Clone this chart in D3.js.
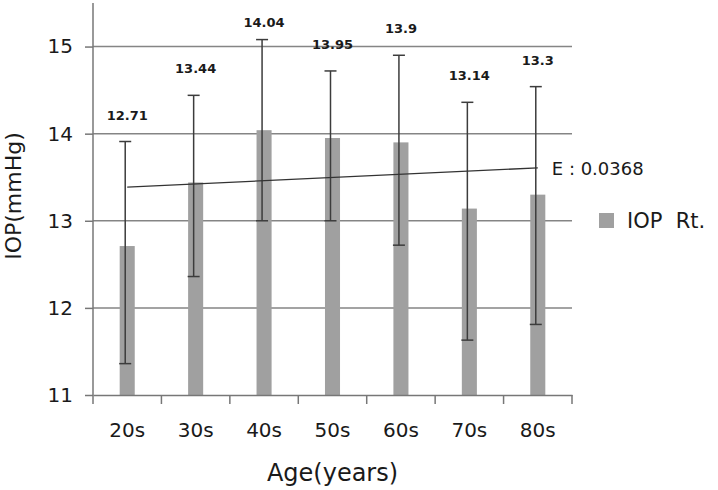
<!DOCTYPE html>
<html>
<head>
<meta charset="utf-8">
<script src="https://cdn.jsdelivr.net/npm/d3@7"></script>
<style>
  body { margin: 0; background: #fff; }
  text { font-family: "DejaVu Sans", sans-serif; fill: #1a1a1a; }
</style>
</head>
<body>
<svg width="718" height="490"></svg>
<script>
const ages = ["20s", "30s", "40s", "50s", "60s", "70s", "80s"];
const means = [12.71, 13.44, 14.04, 13.95, 13.9, 13.14, 13.3];
const errHigh = [13.91, 14.44, 15.08, 14.72, 14.9, 14.36, 14.54];
const errLow = [11.36, 12.36, 13.0, 13.0, 12.72, 11.63, 11.81];
const yTicks = [11, 12, 13, 14, 15];

const svg = d3.select("svg"),
  margin = { top: 3, right: 146, bottom: 95, left: 93 },
  width = +svg.attr("width") - margin.left - margin.right,
  height = +svg.attr("height") - margin.top - margin.bottom;

const chart = svg
  .append("g")
  .attr("transform", `translate(${margin.left},${margin.top})`);

const x = d3.scaleBand().domain(ages).range([0, width]);

const y = d3.scaleLinear().domain([11, 15.5]).range([height, 0]);

// grid lines
chart
  .selectAll(".grid")
  .data(yTicks.slice(1))
  .enter()
  .append("line")
  .attr("x1", 0)
  .attr("x2", width)
  .attr("y1", (d) => y(d))
  .attr("y2", (d) => y(d))
  .attr("stroke", "#858585")
  .attr("stroke-width", 1.5);

// bars
const bw = x.bandwidth() * 0.22;
chart
  .selectAll(".bar")
  .data(means)
  .enter()
  .append("rect")
  .attr("x", (d, i) => x(ages[i]) + x.bandwidth() / 2 - bw / 2)
  .attr("y", (d) => y(d))
  .attr("width", bw)
  .attr("height", (d) => height - y(d))
  .attr("fill", "#a0a0a0");

// error bars
const ex = (i) => x(ages[i]) + x.bandwidth() / 2 - 2;
const eb = chart.append("g").attr("stroke", "#3c3c3c").attr("stroke-width", 1.5);
means.forEach((m, i) => {
  eb.append("line")
    .attr("x1", ex(i)).attr("x2", ex(i))
    .attr("y1", y(errHigh[i])).attr("y2", y(errLow[i]));
  [errHigh[i], errLow[i]].forEach((v) => {
    eb.append("line")
      .attr("x1", ex(i) - 6).attr("x2", ex(i) + 6)
      .attr("y1", y(v)).attr("y2", y(v));
  });
});

// linear trend through the means
const xs = means.map((d, i) => i + 1);
const mx = d3.mean(xs), my = d3.mean(means);
const slope =
  d3.sum(xs, (v, i) => (v - mx) * (means[i] - my)) /
  d3.sum(xs, (v) => (v - mx) ** 2);
const fit = (v) => my + slope * (v - mx);
const cx = (i) => x(ages[i]) + x.bandwidth() / 2;
chart
  .append("line")
  .attr("x1", cx(0))
  .attr("x2", cx(6))
  .attr("y1", y(fit(1)))
  .attr("y2", y(fit(7)))
  .attr("stroke", "#333")
  .attr("stroke-width", 1.3);
chart
  .append("text")
  .attr("x", cx(6) + 14)
  .attr("y", y(fit(7)) + 7)
  .attr("font-size", 18)
  .attr("xml:space", "preserve")
  .text("E : " + slope.toFixed(4));

// value labels
chart
  .selectAll(".lbl")
  .data(means)
  .enter()
  .append("text")
  .attr("x", (d, i) => cx(i))
  .attr("y", (d, i) => Math.max(y(errHigh[i]) - 22, 24))
  .attr("text-anchor", "middle")
  .attr("font-size", 13)
  .attr("font-weight", "bold")
  .text((d) => d);

// axes
chart
  .append("line")
  .attr("x1", 0).attr("x2", 0)
  .attr("y1", 0).attr("y2", height)
  .attr("stroke", "#777").attr("stroke-width", 1.5);

const yAxis = chart
  .append("g")
  .call(d3.axisLeft(y).tickValues(yTicks).tickSize(8).tickPadding(12).tickFormat(d3.format("d")));
yAxis.select(".domain").remove();
yAxis.selectAll(".tick line").attr("stroke", "#777").attr("stroke-width", 1.5);
yAxis.selectAll(".tick text").attr("font-size", 20).attr("font-family", null);

const xAxis = chart
  .append("g")
  .attr("transform", `translate(0,${height})`)
  .call(d3.axisBottom(x).tickSize(0).tickPadding(28));
xAxis.select(".domain").attr("stroke", "#777").attr("stroke-width", 1.5);
xAxis.selectAll(".tick text").attr("font-size", 20).attr("font-family", null);
chart
  .append("g")
  .selectAll("line")
  .data(d3.range(ages.length + 1))
  .enter()
  .append("line")
  .attr("x1", (d) => d * x.step())
  .attr("x2", (d) => d * x.step())
  .attr("y1", height)
  .attr("y2", height + 9)
  .attr("stroke", "#777")
  .attr("stroke-width", 1.5);

// axis titles
svg
  .append("text")
  .attr("x", margin.left + width / 2)
  .attr("y", 481)
  .attr("text-anchor", "middle")
  .attr("font-size", 24)
  .text("Age(years)");
svg
  .append("text")
  .attr("transform", "translate(21,196) rotate(-90)")
  .attr("text-anchor", "middle")
  .attr("font-size", 22)
  .text("IOP(mmHg)");

// legend
svg
  .append("rect")
  .attr("x", 599).attr("y", 213)
  .attr("width", 15).attr("height", 15)
  .attr("fill", "#a0a0a0");
svg
  .append("text")
  .attr("x", 627).attr("y", 228)
  .attr("font-size", 21)
  .attr("xml:space", "preserve")
  .text("IOP  Rt.");
</script>
</body>
</html>
